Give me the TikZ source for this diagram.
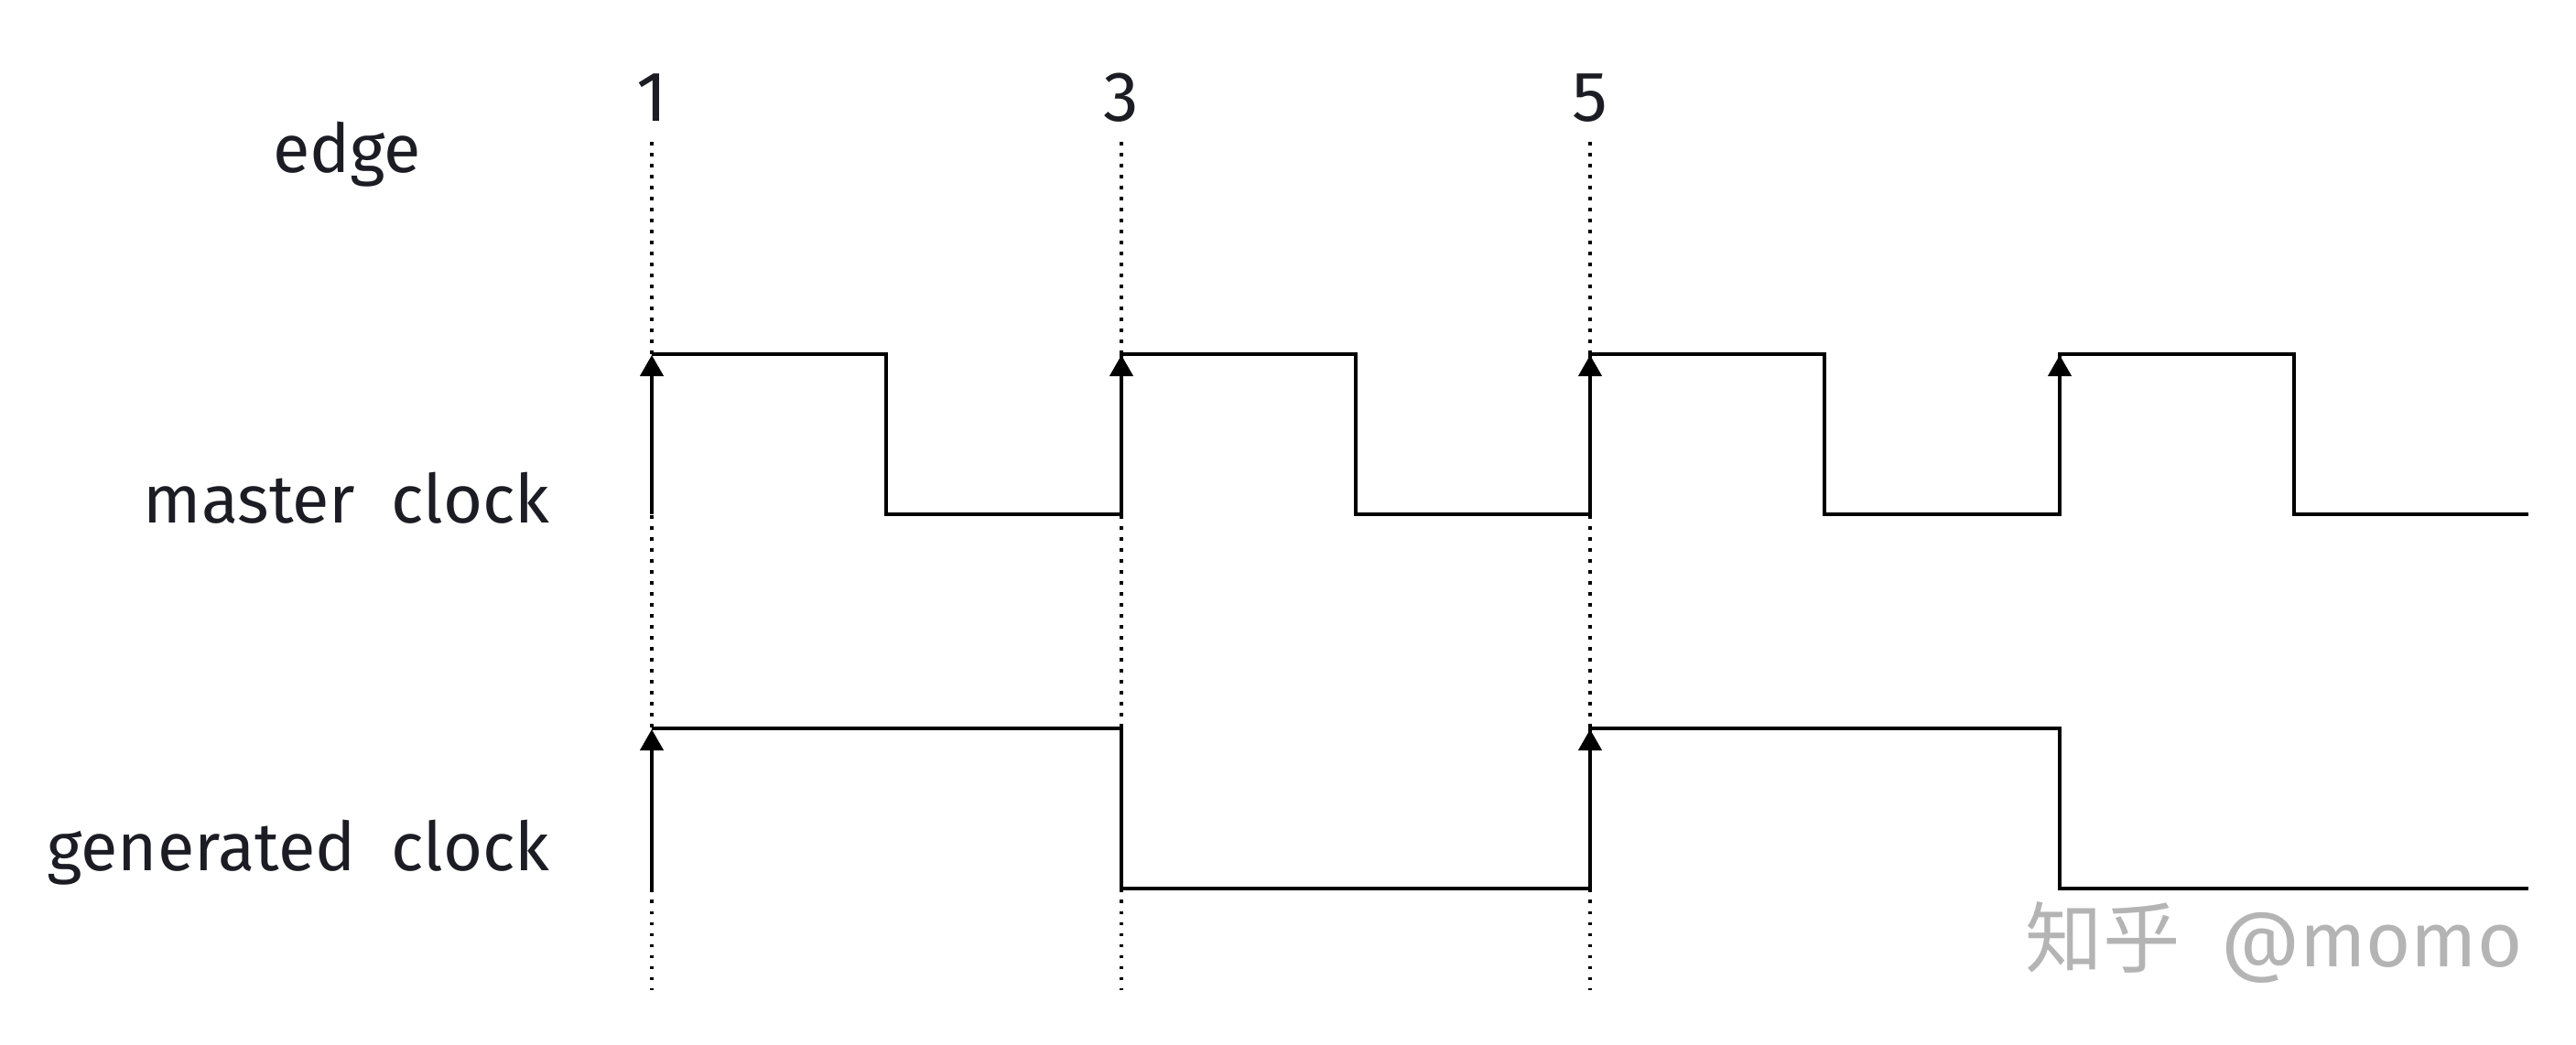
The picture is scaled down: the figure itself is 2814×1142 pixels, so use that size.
\documentclass[tikz,border=0pt]{standalone}
\usepackage{fontspec}
\setmainfont{Fira Sans}
\newfontfamily\cjkfont{Noto Sans CJK SC}
\usetikzlibrary{arrows.meta}
\definecolor{txt}{HTML}{1C1D24}
\definecolor{wm}{HTML}{B4B4B4}
\tikzset{
  wave/.style={line width=0.42mm, line join=miter, line cap=butt},
  edgeline/.style={line width=0.38mm, dash pattern=on 0.38mm off 0.82mm},
  rise/.style={wave, -{Triangle[width=2.5mm,length=2.3mm]}},
  lbl/.style={font=\fontsize{21}{24}\selectfont, text=txt, inner sep=0pt},
  num/.style={font=\fontsize{22}{26}\selectfont, text=txt, inner sep=0pt, anchor=base}
}
\begin{document}
\begin{tikzpicture}[x=0.01cm, y=-0.01cm]
\useasboundingbox (0,0) rectangle (2814,1142);
% labels
\node[lbl, anchor=base] (edge) at (379,188) {edge};
\node[lbl, anchor=base east] (mclk) at (601,571) {master\ \ clock};
\node[lbl, anchor=base east] (gclk) at (601,951) {generated\ \ clock};
% edge numbers
\node[num] (n1) at (712,132) {1};
\node[num] (n3) at (1225,132) {3};
\node[num] (n5) at (1737,132) {5};
% dotted edge lines
\coordinate (d1t) at (712,155); \coordinate (d1b) at (712,1082);
\coordinate (d3t) at (1225,155); \coordinate (d3b) at (1225,1082);
\coordinate (d5t) at (1737,155); \coordinate (d5b) at (1737,1082);
\draw[edgeline] (d1t) -- (d1b);
\draw[edgeline] (d3t) -- (d3b);
\draw[edgeline] (d5t) -- (d5b);
% master clock
\draw[wave] (712,387) -- (968,387) -- (968,562) -- (1225,562) -- (1225,387) -- (1481,387) -- (1481,562) -- (1737,562) -- (1737,387) -- (1993,387) -- (1993,562) -- (2250,562) -- (2250,387) -- (2506,387) -- (2506,562) -- (2762,562);
\draw[rise] (712,562) -- (712,388);
\draw[rise] (1225,562) -- (1225,388);
\draw[rise] (1737,562) -- (1737,388);
\draw[rise] (2250,562) -- (2250,388);
% generated clock
\draw[wave] (712,796) -- (1225,796) -- (1225,971) -- (1737,971) -- (1737,796) -- (2250,796) -- (2250,971) -- (2762,971);
\draw[rise] (712,971) -- (712,797);
\draw[rise] (1737,971) -- (1737,797);
% watermark
\node[text=wm, anchor=west, inner sep=0pt, font=\fontsize{24}{28}\selectfont] (wmk) at (2212,1030) {{\cjkfont 知乎}\ \ @momo};
\end{tikzpicture}
\end{document}
